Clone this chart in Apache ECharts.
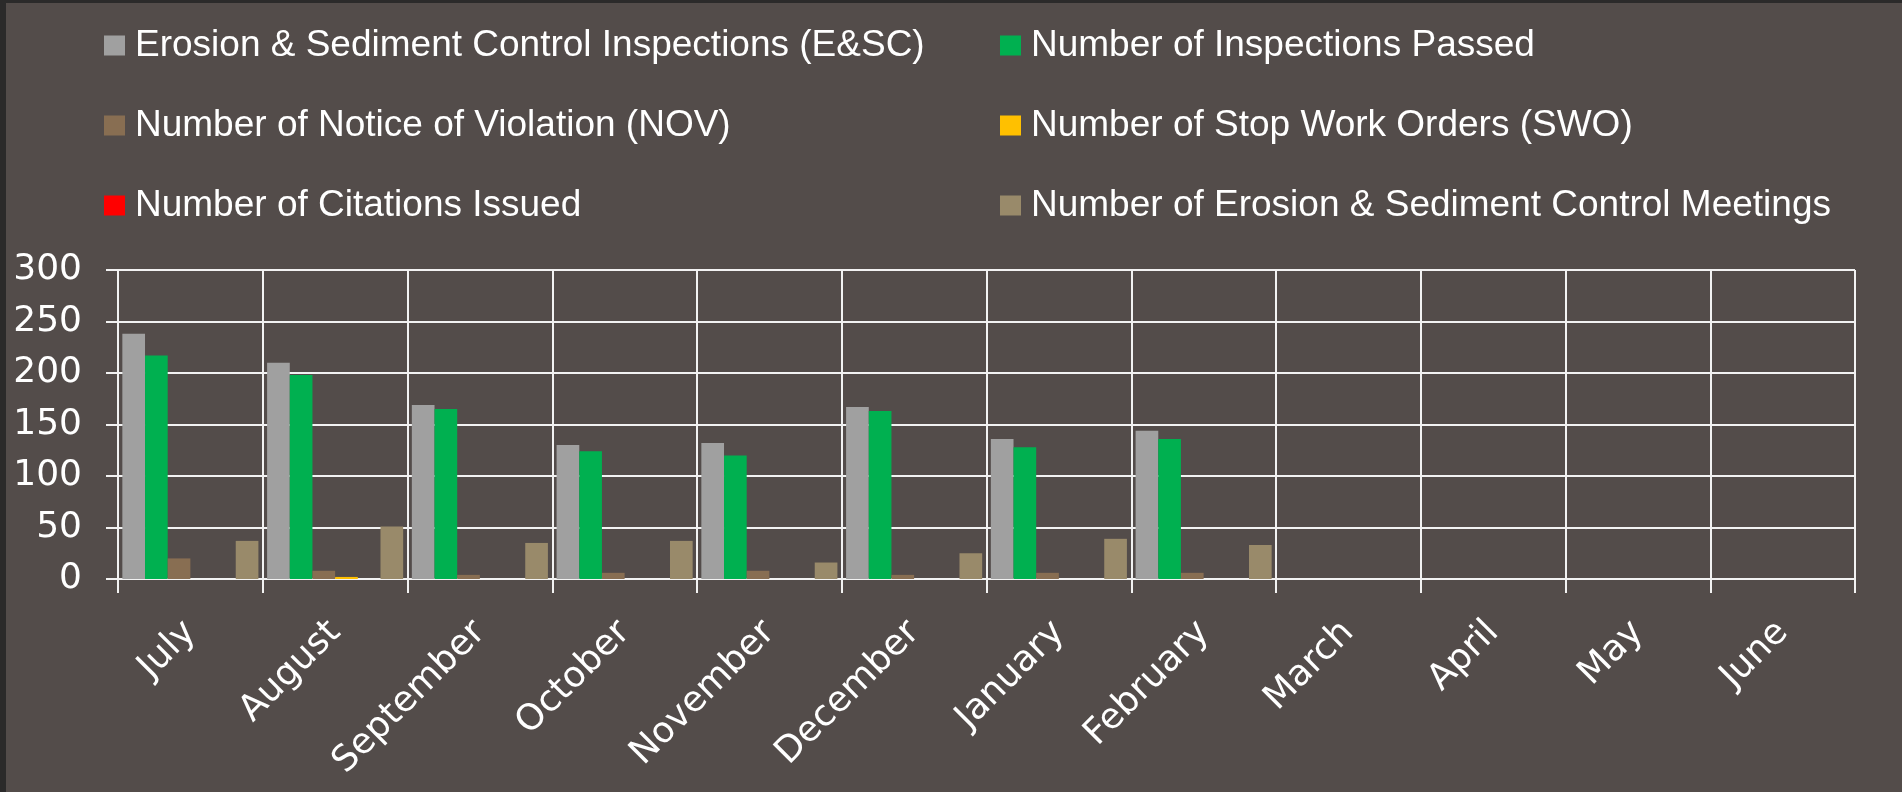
<!DOCTYPE html>
<html>
<head>
<meta charset="utf-8">
<title>E&amp;SC Inspections by Month</title>
<script src="https://cdn.jsdelivr.net/npm/echarts@6/dist/echarts.min.js"></script>
<style>
  html, body { margin: 0; padding: 0; background: #534c4a; overflow: hidden; }
  #chart { position: absolute; left: 0; top: 0; width: 1902px; height: 792px; }
  .edge-left { position: absolute; left: 0; top: 0; width: 6px; height: 792px; background: #2b2a2a; z-index: 2; }
  .edge-top { position: absolute; left: 0; top: 0; width: 1902px; height: 3px; background: #2b2a2a; z-index: 2; }
</style>
</head>
<body>
<div id="chart"></div>
<div class="edge-left"></div>
<div class="edge-top"></div>
<script>
// Fiscal-year months
const months = ['July', 'August', 'September', 'October', 'November', 'December',
                'January', 'February', 'March', 'April', 'May', 'June'];

// Monthly counts (March–June not yet reported)
const inspections = [238, 210, 169, 130, 132, 167, 136, 144, null, null, null, null];
const passed      = [217, 198, 165, 124, 120, 163, 128, 136, null, null, null, null];
const violations  = [20, 8, 4, 6, 8, 4, 6, 6, null, null, null, null];
const stopWork    = [0, 2, 0, 0, 0, 0, 0, 0, null, null, null, null];
const citations   = [0, 0, 0, 0, 0, 0, 0, 0, null, null, null, null];
const meetings    = [37, 51, 35, 37, 16, 25, 39, 33, null, null, null, null];

// Value axis ticks
const yTicks = [0, 50, 100, 150, 200, 250, 300];

const seriesDefs = [
  { name: 'Erosion & Sediment Control Inspections (E&SC)', data: inspections, color: '#a0a0a0' },
  { name: 'Number of Inspections Passed', data: passed, color: '#00b050' },
  { name: 'Number of Notice of Violation (NOV)', data: violations, color: '#886e52' },
  { name: 'Number of Stop Work Orders (SWO)', data: stopWork, color: '#ffc000' },
  { name: 'Number of Citations Issued', data: citations, color: '#ff0000' },
  { name: 'Number of Erosion & Sediment Control Meetings', data: meetings, color: '#998a6a' }
];

const white = '#f2f2f2';
const sansFont = '"Liberation Sans", Arial, sans-serif';
const axisFont = '"DejaVu Sans", Verdana, sans-serif';

// Legend laid out as two columns of three rows
const legendPos = [
  { left: 104, top: 27 }, { left: 1000, top: 27 },
  { left: 104, top: 107 }, { left: 1000, top: 107 },
  { left: 104, top: 187 }, { left: 1000, top: 187 }
];
const legends = seriesDefs.map((s, i) => ({
  show: true,
  left: legendPos[i].left,
  top: legendPos[i].top,
  padding: 0,
  icon: 'rect',
  itemWidth: 21,
  itemHeight: 20,
  data: [s.name],
  selectedMode: false,
  textStyle: {
    color: '#ffffff',
    fontFamily: sansFont,
    fontSize: 37,
    lineHeight: 36,
    padding: [0, 0, 0, 5]
  }
}));

const chart = echarts.init(document.getElementById('chart'), null, { renderer: 'canvas' });

chart.setOption({
  backgroundColor: 'transparent',
  animation: false,
  legend: legends,
  grid: {
    left: 118,
    right: 47,
    top: 270,
    bottom: 213,
    containLabel: false,
    outerBoundsMode: 'none'
  },
  xAxis: {
    type: 'category',
    data: months,
    boundaryGap: true,
    axisLine: { show: true, lineStyle: { color: white, width: 2 } },
    axisTick: { show: true, length: 14, lineStyle: { color: white, width: 2 } },
    splitLine: { show: true, lineStyle: { color: white, width: 2 } },
    axisLabel: {
      color: '#ffffff',
      fontFamily: axisFont,
      fontSize: 36,
      rotate: 45,
      margin: 48,
      interval: 0
    }
  },
  yAxis: {
    type: 'value',
    min: yTicks[0],
    max: yTicks[yTicks.length - 1],
    interval: yTicks[1] - yTicks[0],
    axisLine: { show: true, lineStyle: { color: white, width: 2 } },
    axisTick: { show: true, length: 12, lineStyle: { color: white, width: 2 } },
    splitLine: { show: true, lineStyle: { color: white, width: 2 } },
    axisLabel: {
      color: '#ffffff',
      fontFamily: axisFont,
      fontSize: 36,
      margin: 36
    }
  },
  series: seriesDefs.map(s => ({
    name: s.name,
    type: 'bar',
    data: s.data,
    barGap: '0%',
    barCategoryGap: '6%',
    itemStyle: { color: s.color },
    emphasis: { disabled: true }
  }))
});
</script>
</body>
</html>
